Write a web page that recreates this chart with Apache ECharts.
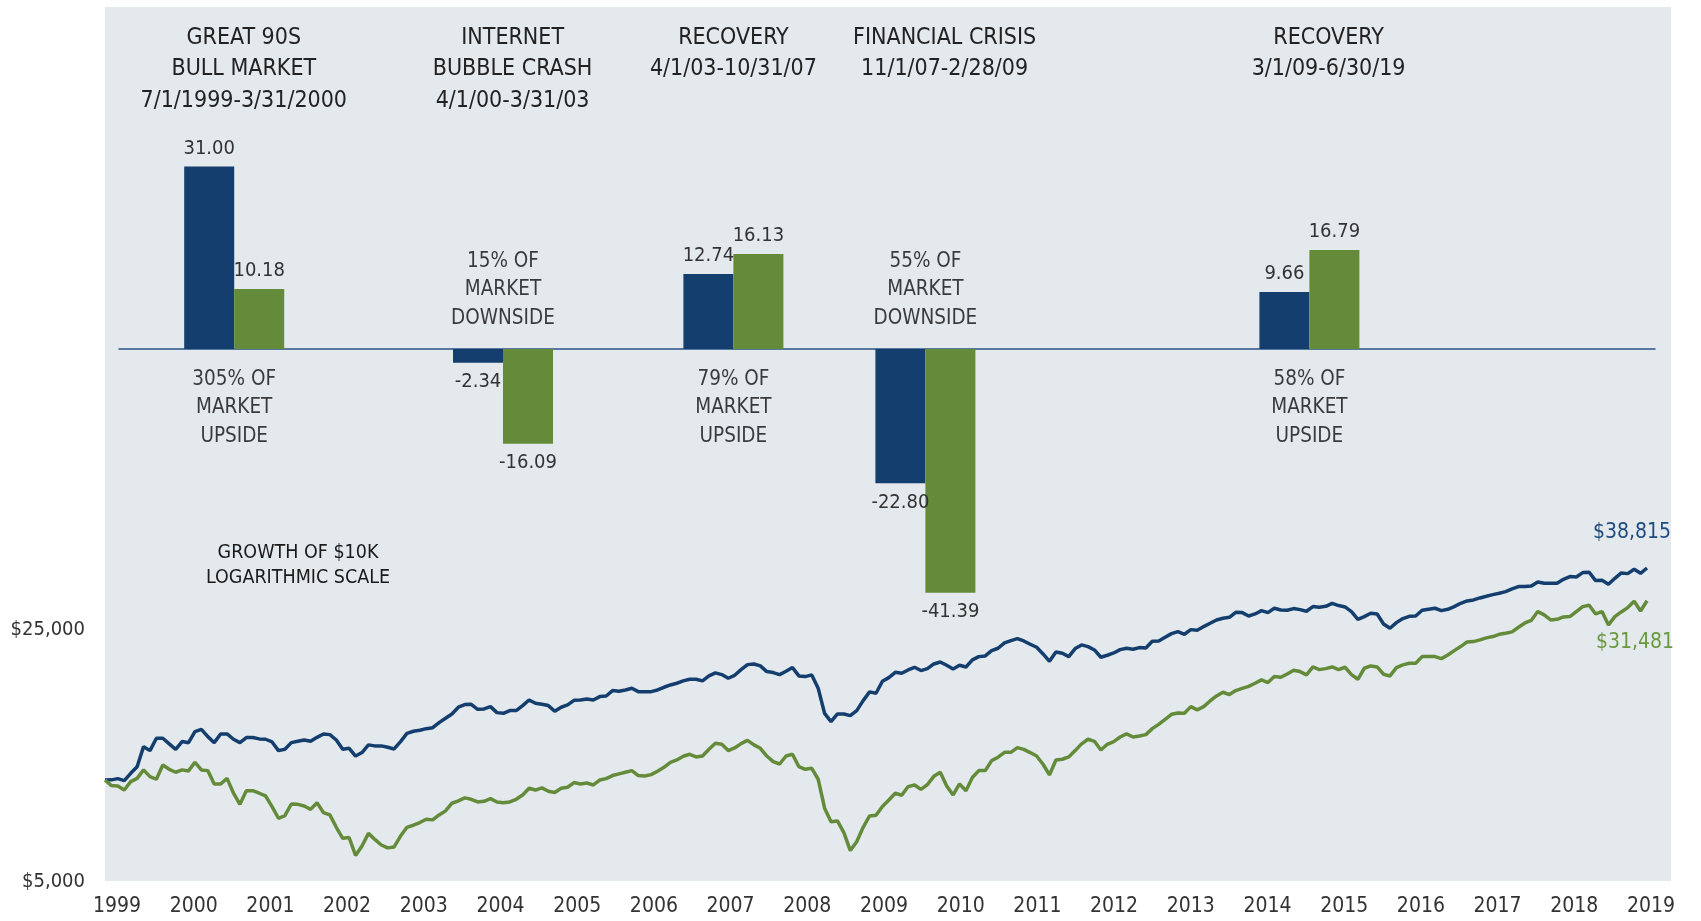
<!DOCTYPE html>
<html>
<head>
<meta charset="utf-8">
<title>Upside / downside capture and growth of $10K</title>
<script src="https://cdn.jsdelivr.net/npm/echarts@6/dist/echarts.min.js"></script>
<style>
  html, body { margin: 0; padding: 0; background: #fff; }
  #chart { width: 1701px; height: 921px; }
</style>
</head>
<body>
<div id="chart"></div>
<script>
const FONT = "'Liberation Sans Narrow', 'DejaVu Sans Condensed', 'Open Sans', sans-serif";
const BLUE = '#143e6e';
const GREEN = '#648b3a';

// market periods (bar panel)
const periods = [
  'GREAT 90S\nBULL MARKET\n7/1/1999-3/31/2000',
  'INTERNET\nBUBBLE CRASH\n4/1/00-3/31/03',
  'RECOVERY\n4/1/03-10/31/07',
  'FINANCIAL CRISIS\n11/1/07-2/28/09',
  'RECOVERY\n3/1/09-6/30/19'
];
const fundReturns = [31.00, -2.34, 12.74, -22.80, 9.66];
const indexReturns = [10.18, -16.09, 16.13, -41.39, 16.79];
const captureNotes = [
  '305% OF\nMARKET\nUPSIDE',
  '15% OF\nMARKET\nDOWNSIDE',
  '79% OF\nMARKET\nUPSIDE',
  '55% OF\nMARKET\nDOWNSIDE',
  '58% OF\nMARKET\nUPSIDE'
];

// growth of $10K, month ends 6/1999 .. 6/2019
const years = ['1999', '2000', '2001', '2002', '2003', '2004', '2005', '2006', '2007', '2008', '2009',
  '2010', '2011', '2012', '2013', '2014', '2015', '2016', '2017', '2018', '2019'];
const dollarTicks = [5000, 25000];

const fundGrowth = [
  10000, 10010, 10090, 9960, 10440, 10890, 12380, 12070, 13060, 13060, 12600, 12170,
  12790, 12700, 13630, 13830, 13200, 12700, 13430, 13430, 12980, 12700, 13120, 13120,
  13010, 12980, 12760, 12070, 12170, 12700, 12810, 12920, 12810, 13140, 13430, 13370,
  12920, 12170, 12250, 11660, 11920, 12520, 12440, 12440, 12330, 12200, 12790, 13480,
  13660, 13750, 13890, 13980, 14440, 14840, 15260, 15930, 16200, 16230, 15720, 15760,
  15990, 15390, 15320, 15590, 15590, 16100, 16690, 16340, 16230, 16100, 15520, 15930,
  16170, 16650, 16690, 16800, 16690, 17050, 17120, 17720, 17640, 17790, 17980, 17600,
  17600, 17600, 17790, 18100, 18370, 18570, 18850, 19050, 19050, 18850, 19460, 19840,
  19630, 19170, 19540, 20260, 20920, 21010, 20750, 20010, 19880, 19630, 20050, 20530,
  19460, 19380, 19590, 17980, 15320, 14530, 15260, 15260, 15100, 15590, 16620, 17570,
  17420, 18810, 19250, 19920, 19790, 20220, 20570, 20140, 20390, 21010, 21280, 20830,
  20350, 20830, 20610, 21560, 22020, 22120, 22880, 23230, 24030, 24400, 24710, 24340,
  23830, 23380, 22400, 21370, 22690, 22500, 22020, 23180, 23730, 23480, 22980, 21930,
  22210, 22540, 23030, 23230, 23080, 23330, 23280, 24290, 24340, 24920, 25510, 25840,
  25400, 26170, 26060, 26680, 27250, 27840, 28140, 28320, 29240, 29180, 28560, 28930,
  29550, 29180, 30000, 29680, 29620, 29940, 29740, 29430, 30320, 30190, 30380, 30970,
  30520, 30260, 29370, 27960, 28440, 29050, 28930, 27140, 26400, 27370, 28080, 28500,
  28560, 29620, 29810, 30000, 29550, 29810, 30320, 30970, 31440, 31640, 32050, 32390,
  32740, 33020, 33370, 33950, 34460, 34460, 34600, 35500, 35200, 35200, 35200, 36110,
  36730, 36650, 37690, 37770, 35810, 35880, 34980, 36340, 37600, 37440, 38500, 37520,
  38815
];
const indexGrowth = [
  10000, 9650, 9630, 9380, 9900, 10110, 10670, 10220, 10050, 11010, 10710, 10510,
  10670, 10600, 11200, 10670, 10620, 9750, 9750, 10110, 9190, 8560, 9340, 9340,
  9190, 9030, 8440, 7830, 7960, 8580, 8560, 8470, 8290, 8650, 8120, 8000,
  7390, 6890, 6920, 6170, 6560, 7110, 6840, 6600, 6480, 6520, 6990, 7390,
  7490, 7620, 7780, 7750, 8000, 8210, 8620, 8750, 8920, 8840, 8690, 8730,
  8880, 8690, 8650, 8690, 8840, 9090, 9490, 9380, 9510, 9310, 9230, 9490,
  9550, 9840, 9750, 9810, 9690, 10000, 10090, 10290, 10400, 10510, 10620, 10290,
  10260, 10350, 10580, 10850, 11200, 11370, 11640, 11790, 11590, 11660, 12170, 12650,
  12570, 12070, 12280, 12620, 12890, 12520, 12250, 11660, 11250, 11080, 11660, 11790,
  10890, 10710, 10780, 10050, 8350, 7660, 7700, 7140, 6370, 6740, 7390, 7950,
  7980, 8440, 8800, 9190, 9070, 9590, 9690, 9420, 9710, 10240, 10510, 9630,
  9090, 9750, 9340, 10160, 10620, 10620, 11320, 11570, 11940, 11940, 12300, 12170,
  11920, 11660, 11060, 10330, 11370, 11420, 11590, 12070, 12600, 12980, 12810, 12120,
  12570, 12790, 13170, 13430, 13170, 13260, 13370, 13890, 14280, 14750, 15230, 15360,
  15320, 15990, 15660, 15990, 16580, 17120, 17530, 17270, 17720, 17980, 18210, 18570,
  18970, 18650, 19380, 19290, 19710, 20180, 20010, 19590, 20610, 20260, 20390, 20610,
  20260, 20570, 19630, 19050, 20440, 20750, 20610, 19670, 19460, 20530, 20880, 21100,
  21100, 22020, 22020, 22020, 21740, 22260, 22880, 23480, 24190, 24240, 24500, 24820,
  25030, 25400, 25570, 25790, 26570, 27310, 27780, 29370, 28750, 27840, 27960, 28380,
  28440, 29370, 30320, 30580, 28930, 29370, 26970, 28440, 29300, 30130, 31370, 29490,
  31481
];

// bar panel layout: 41 slots along the zero line for the bars,
// a finer 161-slot band above it for the period headings
const SLOT_COUNT = 41;
const periodSlot = [3, 10, 16, 21, 31];
const HEAD_SLOT_COUNT = 161;
const headSlot = [13, 41, 64, 86, 126];

function ids(n) {
  const out = [];
  for (let i = 0; i < n; i++) out.push(String(i));
  return out;
}

function slotted(values, slots, n, makeItem) {
  const out = new Array(n).fill('-');
  values.forEach((v, i) => { out[slots[i]] = makeItem(v, i); });
  return out;
}
const titleBySlot = slotted(periods, headSlot, HEAD_SLOT_COUNT, (p) => p);

function barItems(values) {
  return slotted(values, periodSlot, SLOT_COUNT, (v) => ({
    value: v,
    label: { position: v < 0 ? 'bottom' : 'top', distance: v < 0 ? 9 : 8 }
  }));
}
const noteItems = slotted(captureNotes, periodSlot, SLOT_COUNT, (note, i) => ({
  value: 0,
  label: { formatter: note, position: fundReturns[i] < 0 ? 'top' : 'bottom' }
}));

const months = [];
for (let i = 0; i < fundGrowth.length; i++) {
  const m = 5 + i;
  months.push((1999 + Math.floor(m / 12)) + '-' + String((m % 12) + 1).padStart(2, '0'));
}

const dollar = (v) => '$' + Math.round(v).toLocaleString('en-US');

const chart = echarts.init(document.getElementById('chart'));
chart.setOption({
  animation: false,
  textStyle: { fontFamily: FONT },
  graphic: [
    {
      type: 'rect', z: -10,
      shape: { x: 105, y: 7, width: 1566, height: 874 },
      style: { fill: '#e4e9ee' }
    },
    {
      type: 'text', x: 298, y: 565,
      style: {
        text: 'GROWTH OF $10K\nLOGARITHMIC SCALE',
        align: 'center', verticalAlign: 'middle',
        fontFamily: FONT, fontSize: 19.5, lineHeight: 25, fill: '#1a1a1a'
      }
    }
  ],
  grid: [
    { left: 119, width: 1536, top: 25, height: 648 },
    { left: 105, width: 1542, top: 528.4, height: 360 },
    { left: 117, width: 1534, top: 870, height: 10 }
  ],
  xAxis: [
    {
      gridIndex: 0, type: 'category', data: ids(SLOT_COUNT), boundaryGap: false,
      axisLine: { onZero: true, lineStyle: { color: '#2b5387', width: 1.5 } },
      axisTick: { show: false },
      axisLabel: { show: false }
    },
    {
      gridIndex: 0, type: 'category', position: 'top', data: ids(HEAD_SLOT_COUNT), boundaryGap: false,
      axisLine: { show: false, onZero: false },
      axisTick: { show: false },
      axisLabel: {
        interval: 0,
        formatter: (v, i) => (titleBySlot[i] === '-' ? '' : titleBySlot[i]),
        verticalAlign: 'top', margin: 3,
        fontSize: 23, lineHeight: 31.5, color: '#222'
      }
    },
    { gridIndex: 1, type: 'category', data: months, boundaryGap: false, show: false },
    {
      gridIndex: 2, type: 'category', data: years, boundaryGap: false,
      axisLine: { show: false }, axisTick: { show: false },
      axisLabel: { interval: 0, margin: 16, fontSize: 21, color: '#333' }
    }
  ],
  yAxis: [
    { gridIndex: 0, type: 'value', min: -55, max: 55, show: false },
    {
      gridIndex: 1, type: 'log', logBase: 10, min: 5000, max: 50000,
      axisLine: { show: false }, axisTick: { show: false }, splitLine: { show: false },
      axisLabel: {
        customValues: dollarTicks,
        formatter: (v) => dollar(v),
        margin: 20, fontSize: 20, color: '#333',
        verticalAlign: 'bottom', lineHeight: 14
      }
    },
    { gridIndex: 2, type: 'value', show: false }
  ],
  series: [
    {
      name: 'Fund', type: 'bar', xAxisIndex: 0, yAxisIndex: 0,
      barWidth: 50, barGap: '0%',
      itemStyle: { color: BLUE },
      label: { show: true, formatter: (p) => p.value.toFixed(2), fontSize: 20, color: '#333' },
      data: barItems(fundReturns)
    },
    {
      name: 'Index', type: 'bar', xAxisIndex: 0, yAxisIndex: 0,
      barWidth: 50, barGap: '0%',
      itemStyle: { color: GREEN },
      label: { show: true, formatter: (p) => p.value.toFixed(2), fontSize: 20, color: '#333' },
      data: barItems(indexReturns)
    },
    {
      name: 'Capture', type: 'scatter', xAxisIndex: 0, yAxisIndex: 0,
      symbolSize: 0, silent: true, z: 5,
      label: { show: true, fontSize: 20.5, lineHeight: 28.7, color: '#0d0d0d', distance: 16 },
      data: noteItems
    },
    {
      name: 'Fund growth', type: 'line', xAxisIndex: 2, yAxisIndex: 1,
      showSymbol: false, data: fundGrowth,
      lineStyle: { color: BLUE, width: 3.5 }, itemStyle: { color: BLUE },
      endLabel: {
        show: true, formatter: (p) => dollar(p.value),
        color: '#1f4a7e', fontSize: 21, distance: 0,
        align: 'center', verticalAlign: 'middle', offset: [-15, -35]
      }
    },
    {
      name: 'Index growth', type: 'line', xAxisIndex: 2, yAxisIndex: 1,
      showSymbol: false, data: indexGrowth,
      lineStyle: { color: GREEN, width: 3.5 }, itemStyle: { color: GREEN },
      endLabel: {
        show: true, formatter: (p) => dollar(p.value),
        color: '#6a9a3c', fontSize: 21, distance: 0,
        align: 'center', verticalAlign: 'middle', offset: [-12, 42]
      }
    }
  ]
});
window.addEventListener('resize', () => chart.resize());
</script>
</body>
</html>
